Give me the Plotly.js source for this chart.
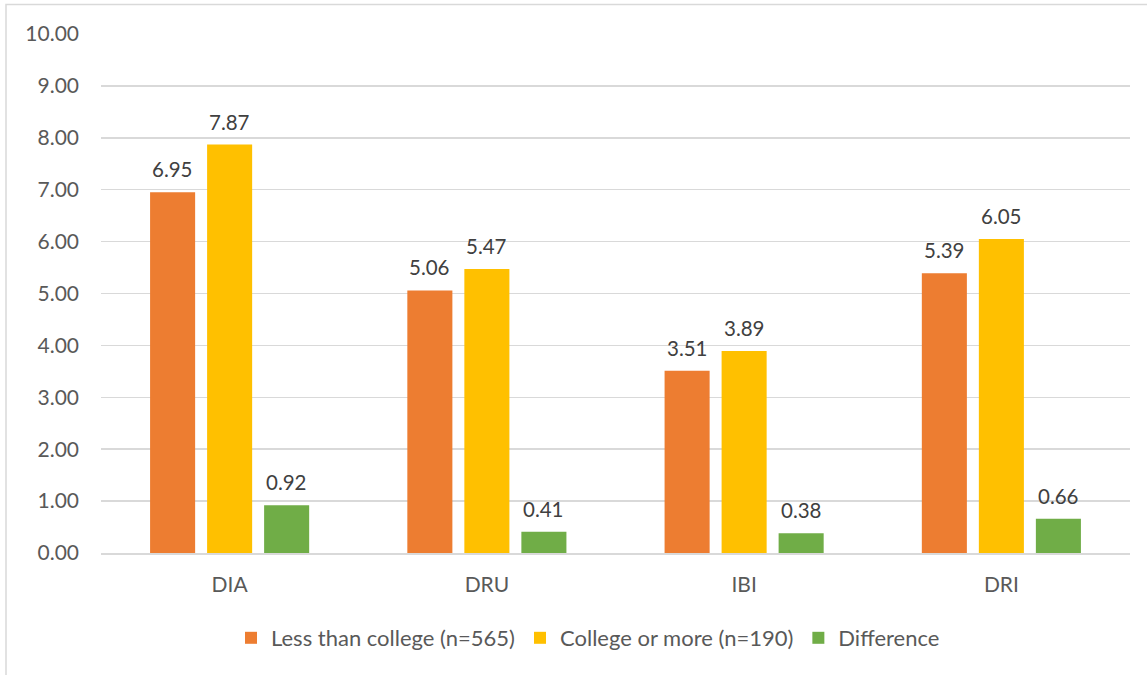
<!DOCTYPE html>
<html>
<head>
<meta charset="utf-8">
<script src="https://cdn.plot.ly/plotly-3.0.1.min.js"></script>
<style>
  html, body { margin: 0; padding: 0; background: #fff; }
  #chart { width: 1147px; height: 675px; }
</style>
</head>
<body>
<div id="chart"></div>
<script>
const categories = ["DIA", "DRU", "IBI", "DRI"];
const lessThanCollege = [6.95, 5.06, 3.51, 5.39];
const collegeOrMore = [7.87, 5.47, 3.89, 6.05];
const difference = [0.92, 0.41, 0.38, 0.66];
const seriesNames = ["Less than college (n=565)", "College or more (n=190)", "Difference"];
const yTickVals = [0, 1, 2, 3, 4, 5, 6, 7, 8, 9, 10];

const FONT = "Lato, 'Open Sans', sans-serif";
const colors = ["#ED7D31", "#FFC000", "#70AD47"];
const seriesData = [lessThanCollege, collegeOrMore, difference];

const traces = seriesData.map((vals, i) => ({
  type: "bar",
  name: seriesNames[i],
  x: categories,
  y: vals,
  marker: { color: colors[i] },
  hoverinfo: "none"
}));

const L = 101, R = 1130, T = 34, B = 553;
const W = R - L, H = B - T;
const slot = 57; // pixel spacing between bars inside a group (layout only)

const annotations = [];
seriesData.forEach((vals, i) => {
  vals.forEach((v, j) => {
    annotations.push({
      x: categories[j], y: v, xref: "x", yref: "y",
      text: v.toFixed(2),
      showarrow: false,
      xanchor: "center", yanchor: "bottom",
      xshift: (i - 1) * slot,
      yshift: 9,
      font: { family: FONT, size: 20.5, color: "#404040" }
    });
  });
});

const layout = {
  width: 1147,
  height: 675,
  margin: { l: L, r: 1147 - R, t: T, b: 675 - B, pad: 0 },
  paper_bgcolor: "#ffffff",
  plot_bgcolor: "#ffffff",
  barmode: "group",
  bargap: 0.335,
  bargroupgap: 0.21,
  font: { family: FONT, size: 21, color: "#595959" },
  showlegend: true,
  legend: {
    orientation: "h",
    x: (588 - L) / W, xanchor: "center",
    y: (B - 638) / H, yanchor: "middle",
    font: { family: FONT, size: 22, color: "#595959" },
    itemclick: false,
    traceorder: "normal"
  },
  xaxis: {
    type: "category",
    showgrid: false,
    showline: true,
    linecolor: "#D9D9D9",
    linewidth: 1.5,
    ticks: "",
    ticklabelstandoff: 12,
    tickfont: { family: FONT, size: 21, color: "#595959" },
    fixedrange: true
  },
  yaxis: {
    range: [0, 10],
    tickvals: yTickVals,
    ticktext: yTickVals.map(v => v.toFixed(2)),
    showgrid: true,
    gridcolor: "#D9D9D9",
    gridwidth: 1.5,
    zeroline: false,
    showline: false,
    ticks: "",
    ticklabelstandoff: 21,
    tickfont: { family: FONT, size: 21, color: "#595959" },
    fixedrange: true
  },
  annotations: annotations,
  shapes: [{
    type: "rect",
    xref: "paper", yref: "paper",
    x0: (6 - L) / W, x1: (1160 - L) / W,
    y0: (B - 700) / H, y1: (B - 4.5) / H,
    line: { color: "#D9D9D9", width: 1.5 },
    fillcolor: "rgba(0,0,0,0)",
    layer: "below"
  }]
};

Plotly.newPlot("chart", traces, layout, { displayModeBar: false, staticPlot: true });
</script>
</body>
</html>
